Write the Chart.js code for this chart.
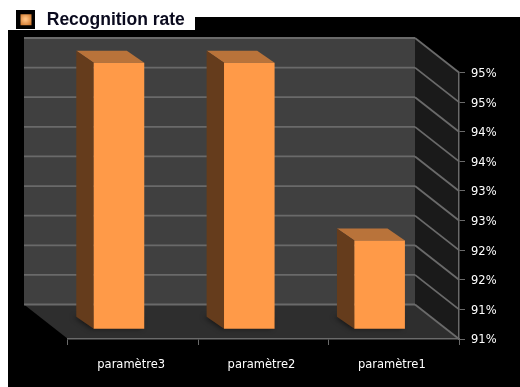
<!DOCTYPE html>
<html>
<head>
<meta charset="utf-8">
<style>
  html, body { margin: 0; padding: 0; background: #fff; }
  #wrap { width: 520px; height: 387px; }
</style>
<script src="https://cdn.jsdelivr.net/npm/chart.js@4/dist/chart.umd.min.js"></script>
</head>
<body>
<div id="wrap"><canvas id="chart"></canvas></div>
<script>
// Data
const categories = ['paramètre3', 'paramètre2', 'paramètre1'];
const seriesName = 'Recognition rate';
const seriesValues = [95.1, 95.1, 92.1];
const axisTicks = [90.6, 91.1, 91.6, 92.1, 92.6, 93.1, 93.6, 94.1, 94.6, 95.1];

// Colours of the 3D box
const orange = '#ff9a48';
const orangeTop = '#b9733a';
const orangeSide = '#653c1c';
const gridColor = '#6a6a6a';

// Depth of the box, and how far the bars sit inside it
const depthX = 44;
const depthY = 34.5;
const barShiftX = -14.2;
const barShiftY = -9.7;
const barDepthX = 17.4;
const barDepthY = 12;

// Small legend marker
function makeMarker() {
  const c = document.createElement('canvas');
  c.width = 19;
  c.height = 19;
  const g = c.getContext('2d');
  g.fillStyle = '#000';
  g.fillRect(0, 0, 19, 19);
  const grad = g.createRadialGradient(10, 9, 1, 10, 9, 7);
  grad.addColorStop(0, '#ffc080');
  grad.addColorStop(1, '#d07a30');
  g.fillStyle = grad;
  g.fillRect(5, 4, 11, 11);
  return c;
}

function poly(ctx, pts, color) {
  ctx.beginPath();
  ctx.moveTo(pts[0][0], pts[0][1]);
  for (let i = 1; i < pts.length; i++) {
    ctx.lineTo(pts[i][0], pts[i][1]);
  }
  ctx.closePath();
  ctx.fillStyle = color;
  ctx.fill();
}

function line(ctx, x1, y1, x2, y2) {
  ctx.beginPath();
  ctx.moveTo(x1, y1);
  ctx.lineTo(x2, y2);
  ctx.stroke();
}

// Walls, floor and the sides of the bars
const boxPlugin = {
  id: 'box3d',
  beforeDraw(chart) {
    const ctx = chart.ctx;
    const a = chart.chartArea;
    const y = chart.scales.y;

    ctx.save();
    ctx.fillStyle = '#fff';
    ctx.fillRect(0, 0, chart.width, chart.height);
    ctx.fillStyle = '#000';
    ctx.fillRect(195, 17, chart.width - 195, 13);
    ctx.fillRect(8, 30, chart.width - 8, chart.height - 30);

    const backLeft = a.left - depthX;
    const backRight = a.right - depthX;
    const backTop = a.top - depthY;
    const backBottom = a.bottom - depthY;

    poly(ctx, [[backLeft, backTop], [backRight, backTop], [backRight, backBottom], [backLeft, backBottom]], '#404040');
    poly(ctx, [[backRight, backTop], [a.right, a.top], [a.right, a.bottom], [backRight, backBottom]], '#1a1a1a');
    poly(ctx, [[backLeft, backBottom], [backRight, backBottom], [a.right, a.bottom], [a.left, a.bottom]], '#2e2e2e');

    ctx.strokeStyle = gridColor;
    ctx.lineWidth = 1.8;
    axisTicks.forEach(function (v) {
      const py = y.getPixelForValue(v);
      line(ctx, backLeft, py - depthY, backRight, py - depthY);
      line(ctx, backRight, py - depthY, a.right, py);
    });
    ctx.restore();
  },
  beforeDatasetsDraw(chart) {
    const ctx = chart.ctx;
    const bars = chart.getDatasetMeta(0).data;

    ctx.save();
    bars.forEach(function (bar) {
      const left = bar.x - bar.width / 2 + barShiftX;
      const right = bar.x + bar.width / 2 + barShiftX;
      const top = bar.y + barShiftY;
      const bottom = bar.base + barShiftY;

      // soft shadow on the floor
      ctx.save();
      ctx.shadowColor = 'rgba(0,0,0,0.5)';
      ctx.shadowBlur = 5;
      ctx.shadowOffsetX = -3;
      poly(ctx, [[left - barDepthX, bottom - barDepthY], [right, bottom - barDepthY], [right, bottom], [left, bottom]], '#222');
      ctx.restore();

      poly(ctx, [[left, top], [right, top], [right - barDepthX, top - barDepthY], [left - barDepthX, top - barDepthY]], orangeTop);
      poly(ctx, [[left, top], [left - barDepthX, top - barDepthY], [left - barDepthX, bottom - barDepthY], [left, bottom]], orangeSide);
    });
    ctx.restore();
  },
  // front faces sit inside the box, not on the axis plane
  beforeDatasetDraw(chart) {
    chart.ctx.save();
    chart.ctx.translate(barShiftX, barShiftY);
  },
  afterDatasetDraw(chart) {
    chart.ctx.restore();
  }
};

const labelFont = { family: '"DejaVu Sans"', size: 11.5 };

const hiddenAxis = {
  display: true,
  grid: { display: false },
  border: { display: false },
  ticks: { display: false }
};

new Chart(document.getElementById('chart'), {
  type: 'bar',
  data: {
    labels: categories,
    datasets: [{
      label: seriesName,
      data: seriesValues,
      base: axisTicks[0],
      backgroundColor: orange,
      borderWidth: 0,
      barPercentage: 0.388,
      categoryPercentage: 1,
      clip: false,
      xAxisID: 'x',
      yAxisID: 'y'
    }]
  },
  options: {
    responsive: true,
    maintainAspectRatio: false,
    animation: false,
    layout: { padding: { left: 2, top: 1 } },
    plugins: {
      tooltip: { enabled: false },
      legend: {
        position: 'top',
        align: 'start',
        labels: {
          usePointStyle: true,
          pointStyleWidth: 26,
          padding: 10,
          color: '#0a0a1e',
          font: { family: '"Liberation Sans"', size: 17.5, weight: 'bold' },
          generateLabels: function (chart) {
            return [{
              text: seriesName,
              pointStyle: makeMarker(),
              fontColor: '#0a0a1e',
              lineWidth: 0,
              datasetIndex: 0
            }];
          }
        }
      }
    },
    scales: {
      x: {
        position: 'bottom',
        afterFit: function (s) { s.height = 48; },
        grid: { color: gridColor, drawOnChartArea: false, tickLength: 6, tickColor: gridColor, offset: true },
        border: { color: gridColor, width: 1.5 },
        ticks: { color: '#fff', font: labelFont, padding: 13, labelOffset: -2, maxRotation: 0 }
      },
      spacerTop: Object.assign({}, hiddenAxis, {
        axis: 'x',
        position: 'top',
        afterFit: function (s) { s.height = 34; }
      }),
      spacerLeft: Object.assign({}, hiddenAxis, {
        axis: 'y',
        position: 'left',
        afterFit: function (s) { s.width = 66; }
      }),
      y: {
        position: 'right',
        min: axisTicks[0],
        max: axisTicks[axisTicks.length - 1],
        afterBuildTicks: function (s) {
          s.ticks = axisTicks.map(function (v) { return { value: v }; });
        },
        afterFit: function (s) { s.width = 61; },
        grid: { color: gridColor, drawOnChartArea: false, tickLength: 6, tickColor: gridColor },
        border: { color: gridColor, width: 1.5 },
        ticks: {
          color: '#fff',
          font: labelFont,
          padding: 6,
          labelOffset: 1.5,
          autoSkip: false,
          callback: function (v) { return Math.round(v) + '%'; }
        }
      }
    }
  },
  plugins: [boxPlugin]
});
</script>
</body>
</html>
